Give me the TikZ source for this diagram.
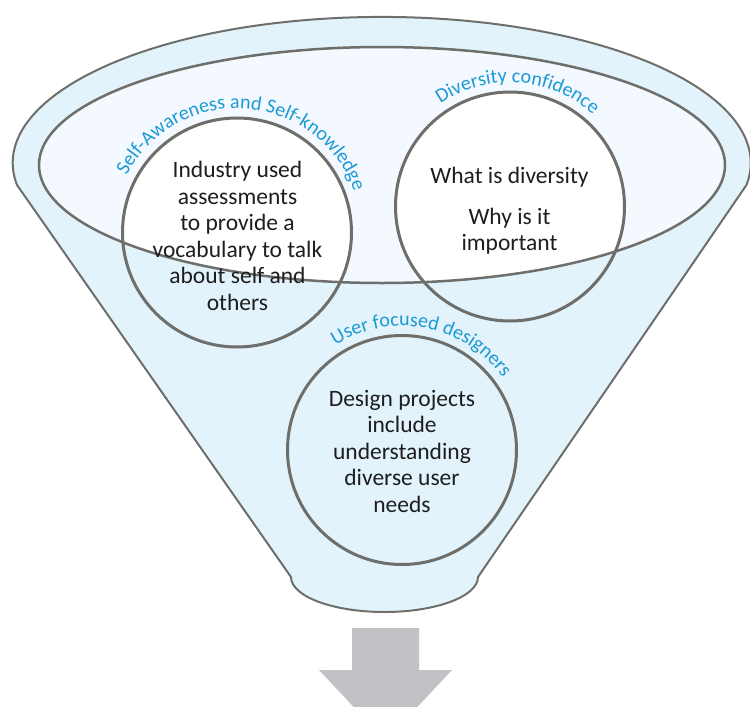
\documentclass[tikz,border=0pt]{standalone}
\usepackage{fontspec}
\setmainfont{Carlito}
\usepackage{tikz}
\usetikzlibrary{positioning,decorations.text}
\definecolor{funnelblue}{RGB}{226,243,252}
\definecolor{rimblue}{RGB}{243,249,254}
\definecolor{linegray}{RGB}{110,110,106}
\definecolor{labelblue}{RGB}{28,154,214}
\definecolor{arrowgray}{RGB}{193,193,198}
\definecolor{textdark}{RGB}{30,30,30}
\newcommand{\labelfont}{\fontsize{20}{20}\selectfont}

\begin{document}
\begin{tikzpicture}[x=1pt,y=-1pt]
\tikzstyle{topic}=[circle, draw=linegray, line width=3pt, minimum size=229pt, inner sep=0pt]
\tikzstyle{topictext}=[align=center, text=textdark, font=\fontsize{23.5}{26.5}\selectfont, inner sep=0pt]
\tikzstyle{topiclabel}=[decorate, decoration={text along path, text align=center, text color=labelblue}]
\useasboundingbox (0,0) rectangle (750,707);
\clip (0,0) rectangle (750,707);
% funnel
\draw[fill=funnelblue, draw=linegray, line width=2pt] (17,185) arc[start angle=171.3, end angle=368.7, x radius=369, y radius=146] -- (478,577) arc[start angle=0, end angle=180, x radius=93.5, y radius=35] -- cycle; %
\fill[rimblue] (382,165) ellipse [x radius=343, y radius=118]; %
\begin{scope}
\clip (382,165) ellipse [x radius=343, y radius=118];
\fill[white] (237,232.5) circle [radius=114.5];
\fill[white] (510,206.5) circle [radius=114.5];
\end{scope}
\draw[linegray, line width=2.5pt] (382,165) ellipse [x radius=343, y radius=118]; %

% topics
\node[topic] (self) at (237,232.5) {};
\node[topic] (diversity) at (510,206.5) {};
\node[topic] (user) at (402,450) {};
\node[topictext] (selftext) at (237.5,236) {Industry used\\assessments\\to provide a\\vocabulary to talk\\about self and\\others};
\node[topictext] (diversitytext) at (509.5,211) {What is diversity\\[14pt]Why is it\\important};
\node[topictext] (usertext) at (402,451) {Design projects\\include\\understanding\\diverse user\\needs};

% labels round the topics
\path[topiclabel, decoration={text={|\labelfont|Self-Awareness and Self-knowledge}}] (self.center) ++(194:124) arc[start angle=194, end angle=354, radius=124]; %
\path[topiclabel, decoration={text={|\labelfont|Diversity confidence}}] (diversity.center) ++(194:124) arc[start angle=194, end angle=354, radius=124]; %
\path[topiclabel, decoration={text={|\labelfont|User focused designers}}] (user.center) ++(201:124) arc[start angle=201, end angle=361, radius=124]; %

% arrow out of the funnel
\fill[arrowgray] (352,628) -- (419,628) -- (419,670) -- (452,670) -- (385.5,741) -- (319,670) -- (352,670) -- cycle; %
\end{tikzpicture}
\end{document}
